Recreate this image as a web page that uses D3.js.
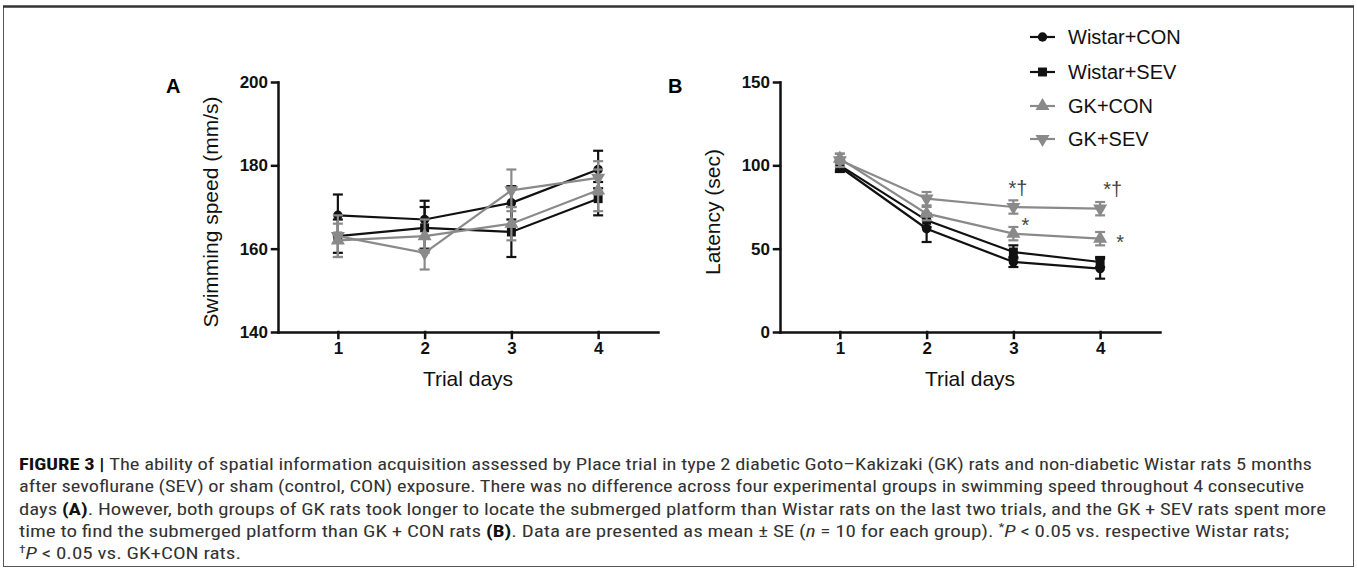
<!DOCTYPE html>
<html>
<head>
<meta charset="utf-8">
<script src="https://cdn.jsdelivr.net/npm/d3@7"></script>
<style>
body { margin: 0; background: #fff; }
svg { display: block; }
</style>
</head>
<body>
<script>
// Figure 3: swimming speed (A) and latency (B) over 4 trial days, 4 groups

var W = 1357, H = 571;

var days = [1, 2, 3, 4];
var groups = ["Wistar+CON", "Wistar+SEV", "GK+CON", "GK+SEV"];

// mean / SE, one row per group, one column per day
var speedMean = [[168, 167, 171, 179], [163, 165, 164, 172], [162, 163, 166, 174], [163, 159, 174, 177]];
var speedSE = [[5, 4.5, 4, 4.5], [4, 5, 6, 4], [4, 4, 4, 5], [5, 4, 5, 4]];
var latencyMean = [[99, 62, 42, 38], [100, 67, 48, 42], [104, 71, 59, 56], [103, 80, 75, 74]];
var latencySE = [[3, 8, 3, 6], [3, 4, 4, 3], [3, 4, 4, 4], [4, 4, 4, 4]];

var speedTicks = [140, 160, 180, 200];
var latencyTicks = [0, 50, 100, 150];

// significance marks on panel B
var marks = ["*\u2020", "*", "*\u2020", "*"];
var markDay = [3, 3, 4, 4];
var markGroup = [3, 2, 3, 2];

var groupColor = ["#111", "#111", "#8a8a8a", "#8a8a8a"];
var groupSymbol = [d3.symbolCircle, d3.symbolSquare, d3.symbolTriangle, d3.symbolTriangle];
var groupSize = [70, 80, 85, 85];
var groupRot = [0, 0, 0, 180];

var svg = d3.select("body").append("svg")
    .attr("width", W)
    .attr("height", H)
    .attr("font-family", "Arial, 'Liberation Sans', Helvetica, sans-serif");

// frame round the figure
svg.append("rect")
    .attr("x", 3.5).attr("y", 6.5)
    .attr("width", 1350).attr("height", 560)
    .attr("fill", "none").attr("stroke", "#555").attr("stroke-width", 1);
svg.append("line")
    .attr("x1", 3).attr("x2", 1354).attr("y1", 6.5).attr("y2", 6.5)
    .attr("stroke", "#333").attr("stroke-width", 2.5);

var yTop = 82, yBot = 332;

function drawPanel(x0, yDomain, ticks, means, ses, letter, ytitle) {
    var x = d3.scaleLinear().domain([0.31, 4.69]).range([x0, x0 + 380]);
    var y = d3.scaleLinear().domain(yDomain).range([yBot, yTop]);
    var g = svg.append("g");

    var xa = g.append("g")
        .attr("transform", "translate(0," + yBot + ")")
        .call(d3.axisBottom(x).tickValues(days).tickSize(6).tickSizeOuter(0)
            .tickPadding(4).tickFormat(d3.format("d")));
    var ya = g.append("g")
        .attr("transform", "translate(" + x0 + ",0)")
        .call(d3.axisLeft(y).tickValues(ticks).tickSize(6).tickSizeOuter(0).tickPadding(4));

    [xa, ya].forEach(function(a) {
        a.attr("font-family", null).attr("font-size", null);
        a.selectAll("path, line").attr("stroke", "#111").attr("stroke-width", 2.5)
            .attr("stroke-linecap", "square");
        a.selectAll("text").attr("fill", "#111")
            .attr("font-size", 17).attr("font-weight", "bold");
    });

    // axis titles
    g.append("text")
        .attr("x", x0 + 190).attr("y", 386)
        .attr("text-anchor", "middle").attr("font-size", 21).attr("fill", "#111")
        .text("Trial days");
    g.append("text")
        .attr("transform", "translate(" + (x0 - 60) + "," + 212 + ") rotate(-90)")
        .attr("text-anchor", "middle").attr("font-size", 21).attr("fill", "#111")
        .text(ytitle);
    g.append("text")
        .attr("x", x0 - 112).attr("y", 93)
        .attr("font-size", 20).attr("font-weight", "bold").attr("fill", "#000")
        .text(letter);

    var line = d3.line().x(function(d, i) { return x(days[i]); }).y(function(d) { return y(d); });

    groups.forEach(function(name, gi) {
        var col = groupColor[gi];
        g.append("path")
            .attr("d", line(means[gi]))
            .attr("fill", "none").attr("stroke", col).attr("stroke-width", 2.2);

        var eb = g.append("g").attr("stroke", col).attr("stroke-width", 2.2);
        means[gi].forEach(function(m, di) {
            var cx = x(days[di]), lo = y(m - ses[gi][di]), hi = y(m + ses[gi][di]);
            eb.append("line").attr("x1", cx).attr("x2", cx).attr("y1", lo).attr("y2", hi);
            eb.append("line").attr("x1", cx - 5).attr("x2", cx + 5).attr("y1", lo).attr("y2", lo);
            eb.append("line").attr("x1", cx - 5).attr("x2", cx + 5).attr("y1", hi).attr("y2", hi);
        });

        g.selectAll(null)
            .data(means[gi])
            .enter().append("path")
            .attr("d", d3.symbol().type(groupSymbol[gi]).size(groupSize[gi]))
            .attr("transform", function(d, di) {
                return "translate(" + x(days[di]) + "," + y(d) + ") rotate(" + groupRot[gi] + ")";
            })
            .attr("fill", col);
    });

    return { x: x, y: y };
}

drawPanel(278, [140, 200], speedTicks, speedMean, speedSE, "A", "Swimming  speed (mm/s)");
var pb = drawPanel(780, [0, 150], latencyTicks, latencyMean, latencySE, "B", "Latency (sec)");

// significance marks
var markDx = [-5, 8, 3, 16], markDy = [-12, -2, -13, 10];
marks.forEach(function(t, i) {
    var d = markDay[i];
    svg.append("text")
        .attr("x", pb.x(d) + markDx[i])
        .attr("y", pb.y(latencyMean[markGroup[i]][d - 1]) + markDy[i])
        .attr("font-size", 20).attr("fill", "#444")
        .text(t);
});

// legend
var legY = [37, 72, 106, 139];
groups.forEach(function(name, gi) {
    var lg = svg.append("g").attr("transform", "translate(1030," + legY[gi] + ")");
    lg.append("line").attr("x1", 0).attr("x2", 25)
        .attr("stroke", groupColor[gi]).attr("stroke-width", 2.2);
    lg.append("path")
        .attr("d", d3.symbol().type(groupSymbol[gi]).size(groupSize[gi]))
        .attr("transform", "translate(12.5,0) rotate(" + groupRot[gi] + ")")
        .attr("fill", groupColor[gi]);
    lg.append("text")
        .attr("x", 38).attr("y", 7)
        .attr("font-size", 20).attr("fill", "#111")
        .text(name);
});

// caption
var capLines = [
    [["FIGURE 3 | ", "b"], ["The ability of spatial information acquisition assessed by Place trial in type 2 diabetic Goto\u2013Kakizaki (GK) rats and non-diabetic Wistar rats 5 months", ""]],
    [["after sevoflurane (SEV) or sham (control, CON) exposure. There was no difference across four experimental groups in swimming speed throughout 4 consecutive", ""]],
    [["days ", ""], ["(A)", "b"], [". However, both groups of GK rats took longer to locate the submerged platform than Wistar rats on the last two trials, and the GK + SEV rats spent more", ""]],
    [["time to find the submerged platform than GK + CON rats ", ""], ["(B)", "b"], [". Data are presented as mean \u00b1 SE (", ""], ["n", "i"], [" = 10 for each group). ", ""], ["*", "sup"], ["P", "i"], [" < 0.05 vs. respective Wistar rats;", ""]],
    [["\u2020", "sup"], ["P", "i"], [" < 0.05 vs. GK+CON rats.", ""]]
];
var capWidth = [1293, 1285, 1307, 1270, 222];
var capBase = [470, 492, 515, 537, 559];

capLines.forEach(function(segs, li) {
    var t = svg.append("text")
        .attr("x", 19).attr("y", capBase[li])
        .attr("font-family", "'Liberation Sans Narrow', 'Arial Narrow', 'Roboto Condensed', Arial, sans-serif")
        .attr("font-size", 17).attr("fill", "#333")
        .attr("textLength", capWidth[li]).attr("lengthAdjust", "spacingAndGlyphs");
    var shifted = false;
    segs.forEach(function(s) {
        var ts = t.append("tspan").text(s[0]);
        if (s[1] === "b") ts.attr("font-weight", "bold").attr("fill", "#111");
        if (s[1] === "i") ts.attr("font-style", "italic");
        if (s[1] === "sup") { ts.attr("font-size", 11).attr("dy", -6); shifted = true; }
        else if (shifted) { ts.attr("dy", 6); shifted = false; }
    });
});
</script>
</body>
</html>
